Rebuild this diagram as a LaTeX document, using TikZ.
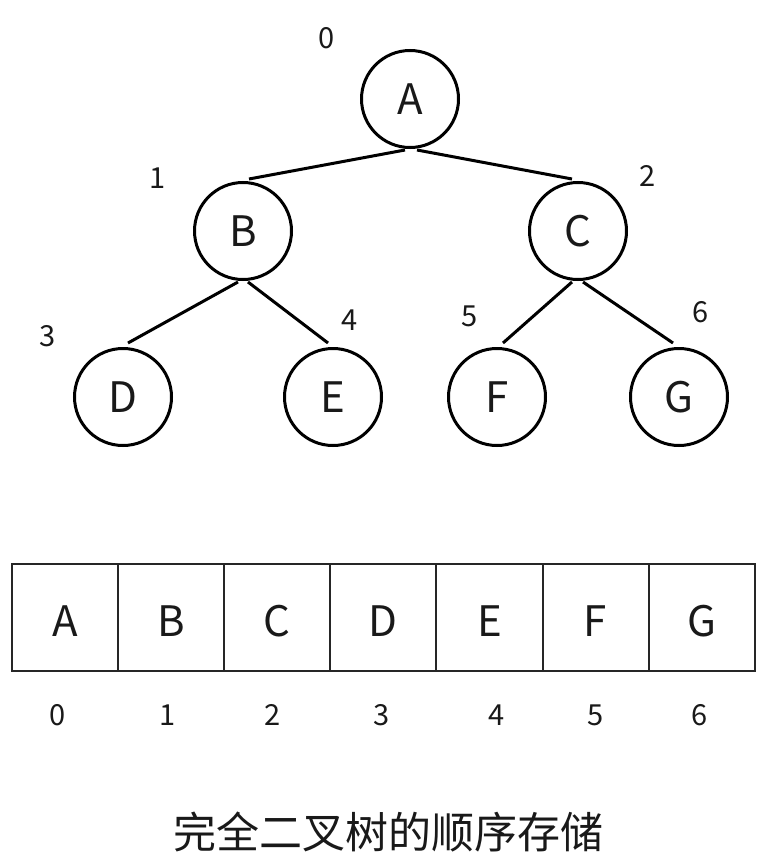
\documentclass[tikz,border=0pt]{standalone}
\usepackage{fontspec}
\setmainfont{Noto Sans CJK SC}
\begin{document}
\begin{tikzpicture}[x=1pt,y=-1pt,
  treenode/.style={circle,draw=black,line width=3pt,minimum size=97pt,inner sep=0pt,font=\fontsize{42}{42}\selectfont,text=black!90},
  edge/.style={line width=3pt,draw=black},
  idx/.style={font=\fontsize{29}{29}\selectfont,text=black!90,inner sep=0pt},
  cell/.style={rectangle,draw=black!85,line width=2pt,minimum width=106.1pt,minimum height=107pt,inner sep=0pt},
  celltext/.style={font=\fontsize{42}{42}\selectfont,text=black!90,inner sep=0pt,yshift=-4pt},
  title/.style={font=\fontsize{43}{43}\selectfont,text=black!90,inner sep=0pt}]
\useasboundingbox[fill=white] (0,0) rectangle (765,859);
% tree
\node[treenode] (A) at (410,99) {A};
\node[treenode] (B) at (243,231) {B};
\node[treenode] (C) at (578,231) {C};
\node[treenode] (D) at (123,397) {D};
\node[treenode] (E) at (333,397) {E};
\node[treenode] (F) at (497,397) {F};
\node[treenode] (G) at (679,397) {G};
\draw[edge] ([xshift=-5pt,yshift=-1pt]A.south) -- ([xshift=6pt,yshift=2pt]B.north);
\draw[edge] ([xshift=7pt,yshift=-1pt]A.south) -- ([xshift=-6pt,yshift=2pt]C.north);
\draw[edge] ([xshift=-5pt,yshift=-1pt]B.south) -- ([xshift=5pt,yshift=4pt]D.north);
\draw[edge] ([xshift=5pt,yshift=-1pt]B.south) -- ([xshift=-5pt,yshift=4pt]E.north);
\draw[edge] ([xshift=-6pt,yshift=-1pt]C.south) -- ([xshift=6pt,yshift=4pt]F.north);
\draw[edge] ([xshift=5pt,yshift=-1pt]C.south) -- ([xshift=-6pt,yshift=4pt]G.north);
% tree indices
\node[idx] (i0) at (327,38) {0};
\node[idx] (i1) at (158,178) {1};
\node[idx] (i2) at (648,176) {2};
\node[idx] (i3) at (48,336) {3};
\node[idx] (i4) at (350,320) {4};
\node[idx] (i5) at (470,316) {5};
\node[idx] (i6) at (701,312) {6};
% array
\foreach \l [count=\i from 0] in {A,B,C,D,E,F,G}{
  \node[cell] (c\i) at ({12+106.1*\i+53.05},617.5) {};
  \node[celltext] (l\i) at (c\i.center) {\l};
}
% array indices
\node[idx] (a0) at (58,715) {0};
\node[idx] (a1) at (168,715) {1};
\node[idx] (a2) at (273,715) {2};
\node[idx] (a3) at (382,715) {3};
\node[idx] (a4) at (497,715) {4};
\node[idx] (a5) at (596,715) {5};
\node[idx] (a6) at (700,715) {6};
% title
\node[title] (t) at (388,832) {完全二叉树的顺序存储};
\end{tikzpicture}
\end{document}
